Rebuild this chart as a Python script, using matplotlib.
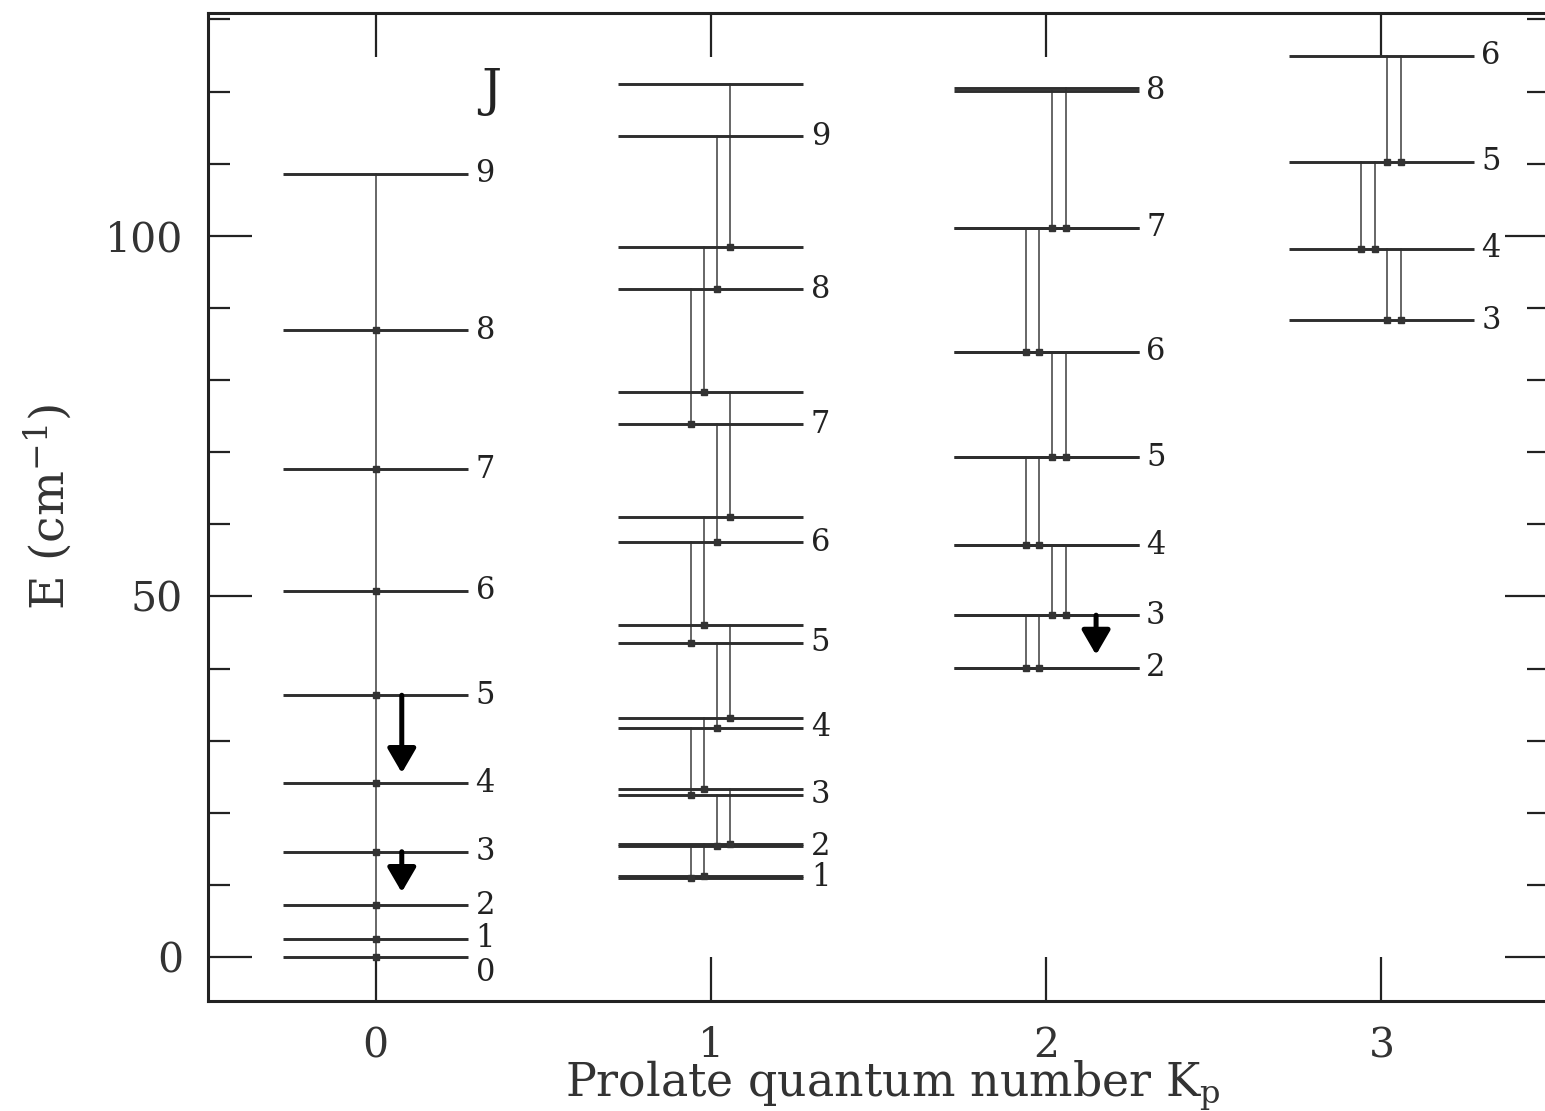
import matplotlib
matplotlib.use("Agg")
import matplotlib.pyplot as plt
from matplotlib.ticker import MultipleLocator, FixedLocator

plt.rcParams["font.family"] = ["DejaVu Serif"]
plt.rcParams["mathtext.fontset"] = "dejavuserif"

# Rotational energy levels (cm^-1) for each K_p ladder
k0_J = [0, 1, 2, 3, 4, 5, 6, 7, 8, 9]
k0_E = [0.0, 2.5, 7.2, 14.6, 24.1, 36.3, 50.8, 67.6, 86.9, 108.6]

k1_J = [1, 2, 3, 4, 5, 6, 7, 8, 9]
k1_E_low = [11.0, 15.35, 22.5, 31.8, 43.6, 57.5, 73.9, 92.6, 113.8]
k1_E_up = [11.25, 15.65, 23.3, 33.2, 46.0, 61.0, 78.3, 98.5, 121.0]

k2_J = [2, 3, 4, 5, 6, 7, 8]
k2_E_low = [40.1, 47.4, 57.1, 69.3, 83.9, 101.1, 120.1]
k2_E_up = [40.1, 47.4, 57.1, 69.3, 83.9, 101.1, 120.5]

k3_J = [3, 4, 5, 6]
k3_E = [88.3, 98.2, 110.3, 125.0]

# side of the transition pair for the first (lowest) transition in each ladder
k1_first_side = "left"
k2_first_side = "left"
k3_first_side = "right"

# highlighted downward transitions: (K_p, x offset, start energy, tip energy)
arrow_K = [0, 0, 2]
arrow_dx = [0.078, 0.078, 0.149]
arrow_E0 = [36.3, 14.6, 47.4]
arrow_E1 = [25.5, 9.0, 41.9]

x_ticks = [0, 1, 2, 3]
y_major = [0, 50, 100]

LEVEL_HALF = 0.276
LEVEL_COLOR = "#2e2e2e"
TRANS_COLOR = "#5a5a5a"
PAIR = {"left": (-0.06, -0.02), "right": (0.018, 0.058)}

fig = plt.figure(figsize=(15.45, 11.11), dpi=100)
fig.patch.set_facecolor("white")
ax = fig.add_axes([208 / 1545, 1 - 1001 / 1111, (1549 - 208) / 1545, (1001 - 13) / 1111])
ax.set_xlim(-0.5, 3.5)
ax.set_ylim(-6.1, 130.9)


def level(k, e, lw=2.1):
    ax.plot([k - LEVEL_HALF, k + LEVEL_HALF], [e, e], color=LEVEL_COLOR, lw=lw,
            solid_capstyle="butt", zorder=3)


def jlabel(k, e, j, dy=0.0):
    ax.text(k + LEVEL_HALF + 0.022, e + dy, str(j), fontsize=22, ha="left", va="center",
            color="#222222", zorder=4)


def transition(x, e_hi, e_lo):
    ax.plot([x, x], [e_hi, e_lo], color=TRANS_COLOR, lw=1.3, zorder=2)
    ax.plot([x], [e_lo], marker="s", ms=4.5, color="#333333", zorder=4, ls="none")


def other(side):
    return "right" if side == "left" else "left"


# K_p = 0 ladder (the J=0 label sits just under its level)
for j, e in zip(k0_J, k0_E):
    level(0, e)
    jlabel(0, e, j, dy=-2.1 if j == 0 else 0.0)
for i in range(len(k0_E) - 1):
    transition(0.0, k0_E[i + 1], k0_E[i])

# K_p = 1 ladder (asymmetry doublets)
for j, el, eu in zip(k1_J, k1_E_low, k1_E_up):
    level(1, el)
    level(1, eu)
    jlabel(1, el, j)
side = k1_first_side
for i in range(len(k1_J) - 1):
    dl, du = PAIR[side]
    transition(1 + dl, k1_E_low[i + 1], k1_E_low[i])
    transition(1 + du, k1_E_up[i + 1], k1_E_up[i])
    side = other(side)

# K_p = 2 ladder
for j, el, eu in zip(k2_J, k2_E_low, k2_E_up):
    level(2, el)
    level(2, eu)
    jlabel(2, el, j)
side = k2_first_side
for i in range(len(k2_J) - 1):
    dl, du = PAIR[side]
    transition(2 + dl, k2_E_low[i + 1], k2_E_low[i])
    transition(2 + du, k2_E_up[i + 1], k2_E_up[i])
    side = other(side)

# K_p = 3 ladder
for j, e in zip(k3_J, k3_E):
    level(3, e)
    jlabel(3, e, j)
side = k3_first_side
for i in range(len(k3_J) - 1):
    dl, du = PAIR[side]
    transition(3 + dl, k3_E[i + 1], k3_E[i])
    transition(3 + du, k3_E[i + 1], k3_E[i])
    side = other(side)

# highlighted transitions
for k, dx, e0, e1 in zip(arrow_K, arrow_dx, arrow_E0, arrow_E1):
    ax.annotate("", xy=(k + dx, e1), xytext=(k + dx, e0),
                arrowprops=dict(arrowstyle="-|>,head_length=0.55,head_width=0.32",
                                lw=3.6, color="black", shrinkA=0, shrinkB=0,
                                mutation_scale=27),
                zorder=5)

ax.text(0.345, 120.0, "J", fontsize=36, ha="center", va="center", color="#222222")

# axes styling
for sp in ax.spines.values():
    sp.set_linewidth(2.2)
    sp.set_color("#222222")
ax.xaxis.set_major_locator(FixedLocator(x_ticks))
ax.yaxis.set_major_locator(FixedLocator(y_major))
ax.yaxis.set_minor_locator(MultipleLocator(10))
ax.tick_params(axis="both", which="both", direction="in", top=True, right=True,
               colors="#222222", labelcolor="#333333")
ax.tick_params(axis="both", which="major", length=31.5, width=1.6, labelsize=29.5)
ax.tick_params(axis="y", which="minor", length=15.5, width=1.6)
ax.tick_params(axis="x", which="major", pad=18)
ax.tick_params(axis="y", which="major", pad=18)

ax.set_xlabel("Prolate quantum number K$_{\\rm p}$", fontsize=33, color="#333333")
ax.xaxis.set_label_coords(0.511, -0.059)
ax.set_ylabel("E (cm$^{-1}$)", fontsize=34, color="#333333", labelpad=22)

fig.savefig("out.png", dpi=100, facecolor="white")
